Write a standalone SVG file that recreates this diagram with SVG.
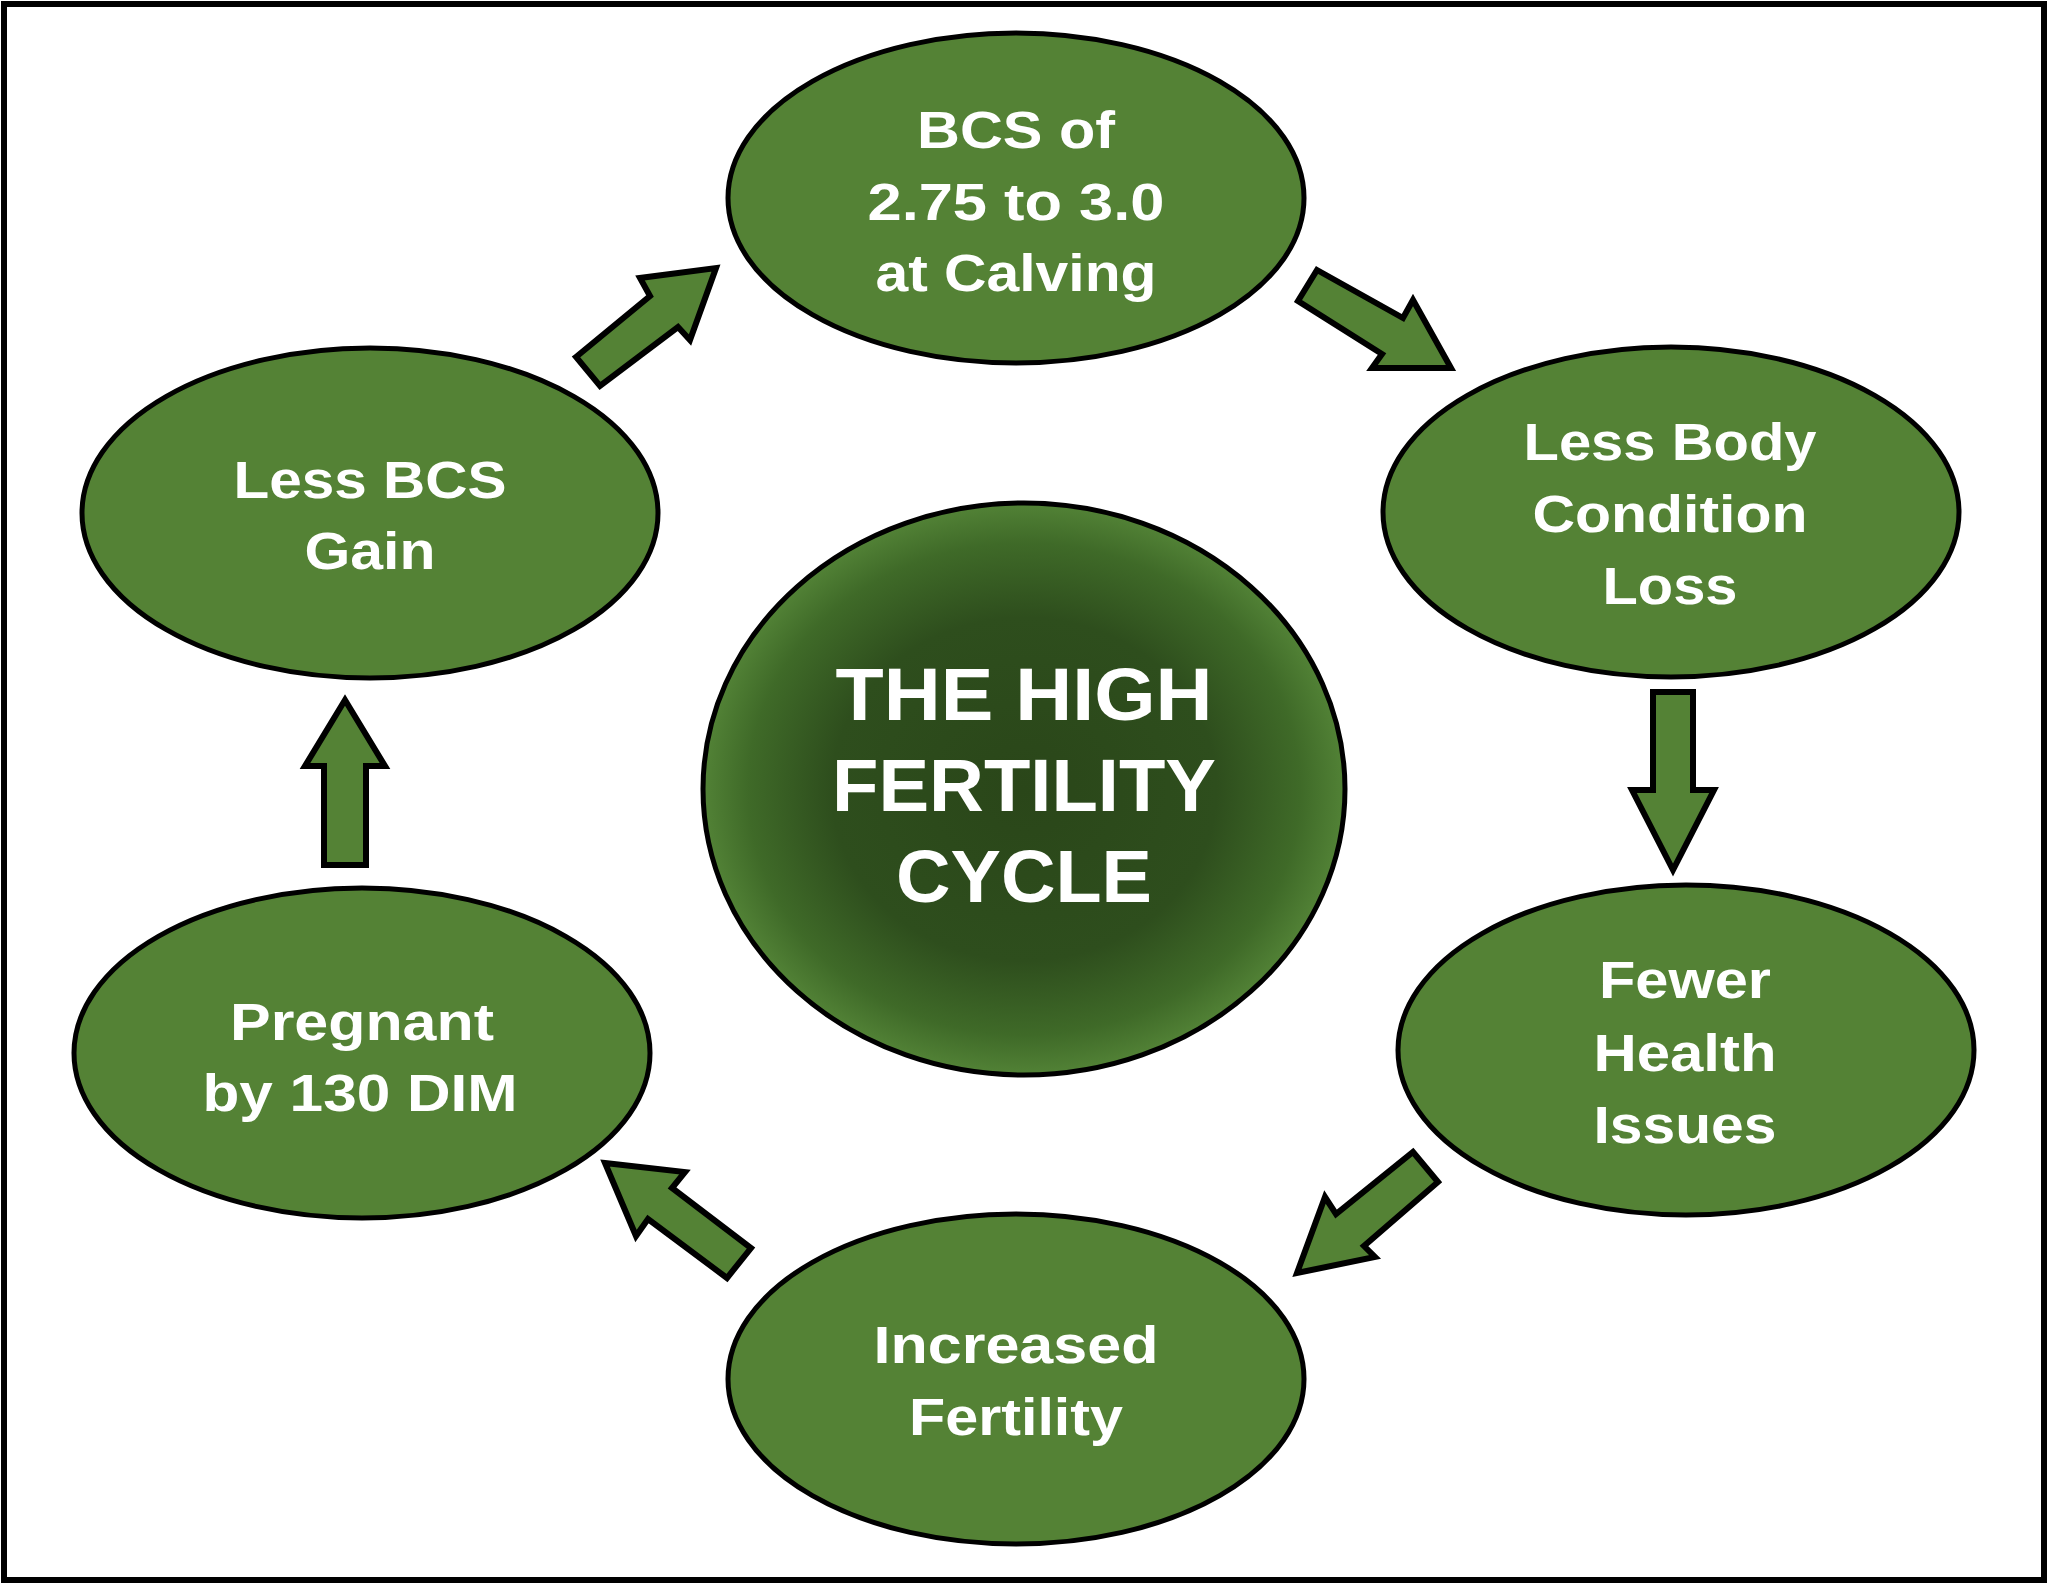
<svg xmlns="http://www.w3.org/2000/svg" width="2048" height="1584" viewBox="0 0 2048 1584">
<defs>
<radialGradient id="centerGrad" cx="50%" cy="50%" r="50%">
<stop offset="0%" stop-color="#2a4619"/>
<stop offset="60%" stop-color="#2e4e1d"/>
<stop offset="86%" stop-color="#3f6a28"/>
<stop offset="100%" stop-color="#528236"/>
</radialGradient>
</defs>
<style>
.node{fill:#548235;stroke:#000;stroke-width:5}
.arrow{fill:#548235;stroke:#000;stroke-width:6;stroke-linejoin:miter}
.lbl{fill:#fff;font-family:"Liberation Sans",Arial,sans-serif;font-weight:bold;font-size:51px;text-anchor:middle}
.big{fill:#fff;font-family:"Liberation Sans",Arial,sans-serif;font-weight:bold;font-size:75px;text-anchor:middle}
</style>
<rect x="0" y="0" width="2048" height="1584" fill="#fff"/>
<rect x="4" y="4" width="2040" height="1576" fill="none" stroke="#000" stroke-width="6"/>

<g id="connectors">
<polygon class="arrow" points="576,357 650,296 640,278 716,268 690,340 678,327 600,386"/>
<polygon class="arrow" points="1317,270 1403,318 1413,300 1451,368 1372,368 1382,354 1298,301"/>
<polygon class="arrow" points="1653,692 1693,692 1693,790 1714,790 1673,870 1632,790 1653,790"/>
<polygon class="arrow" points="1413,1152 1438,1182 1364,1246 1375,1257 1297,1273 1325,1197 1336,1214"/>
<polygon class="arrow" points="605,1163 685,1172 672,1188 751,1248 727,1278 648,1219 636,1236"/>
<polygon class="arrow" points="345,700 385,766 366,766 366,865 324,865 324,766 305,766"/>
</g>

<g id="node-bcs-calving">
<ellipse class="node" cx="1016" cy="198" rx="288" ry="165"/>
<text class="lbl" x="1016" y="148" textLength="198" lengthAdjust="spacingAndGlyphs">BCS of</text>
<text class="lbl" x="1016" y="220" textLength="297" lengthAdjust="spacingAndGlyphs">2.75 to 3.0</text>
<text class="lbl" x="1016" y="291" textLength="281" lengthAdjust="spacingAndGlyphs">at Calving</text>
</g>

<g id="node-less-loss">
<ellipse class="node" cx="1671" cy="512" rx="288" ry="165"/>
<text class="lbl" x="1670" y="460" textLength="293" lengthAdjust="spacingAndGlyphs">Less Body</text>
<text class="lbl" x="1670" y="532" textLength="275" lengthAdjust="spacingAndGlyphs">Condition</text>
<text class="lbl" x="1670" y="604" textLength="135" lengthAdjust="spacingAndGlyphs">Loss</text>
</g>

<g id="node-fewer-health">
<ellipse class="node" cx="1686" cy="1050" rx="288" ry="165"/>
<text class="lbl" x="1685" y="998" textLength="172" lengthAdjust="spacingAndGlyphs">Fewer</text>
<text class="lbl" x="1685" y="1071" textLength="183" lengthAdjust="spacingAndGlyphs">Health</text>
<text class="lbl" x="1685" y="1143" textLength="183" lengthAdjust="spacingAndGlyphs">Issues</text>
</g>

<g id="node-increased-fertility">
<ellipse class="node" cx="1016" cy="1379" rx="288" ry="165"/>
<text class="lbl" x="1016" y="1363" textLength="285" lengthAdjust="spacingAndGlyphs">Increased</text>
<text class="lbl" x="1016" y="1435" textLength="214" lengthAdjust="spacingAndGlyphs">Fertility</text>
</g>

<g id="node-pregnant">
<ellipse class="node" cx="362" cy="1053" rx="288" ry="165"/>
<text class="lbl" x="362" y="1040" textLength="264" lengthAdjust="spacingAndGlyphs">Pregnant</text>
<text class="lbl" x="360" y="1111" textLength="315" lengthAdjust="spacingAndGlyphs">by 130 DIM</text>
</g>

<g id="node-less-gain">
<ellipse class="node" cx="370" cy="513" rx="288" ry="165"/>
<text class="lbl" x="370" y="498" textLength="273" lengthAdjust="spacingAndGlyphs">Less BCS</text>
<text class="lbl" x="370" y="569" textLength="131" lengthAdjust="spacingAndGlyphs">Gain</text>
</g>

<g id="node-center">
<ellipse cx="1024" cy="789" rx="321" ry="286" fill="url(#centerGrad)" stroke="#000" stroke-width="5"/>
<text class="big" x="1024" y="720" textLength="377" lengthAdjust="spacingAndGlyphs">THE HIGH</text>
<text class="big" x="1024" y="811" textLength="384" lengthAdjust="spacingAndGlyphs">FERTILITY</text>
<text class="big" x="1024" y="902" textLength="256" lengthAdjust="spacingAndGlyphs">CYCLE</text>
</g>
</svg>
